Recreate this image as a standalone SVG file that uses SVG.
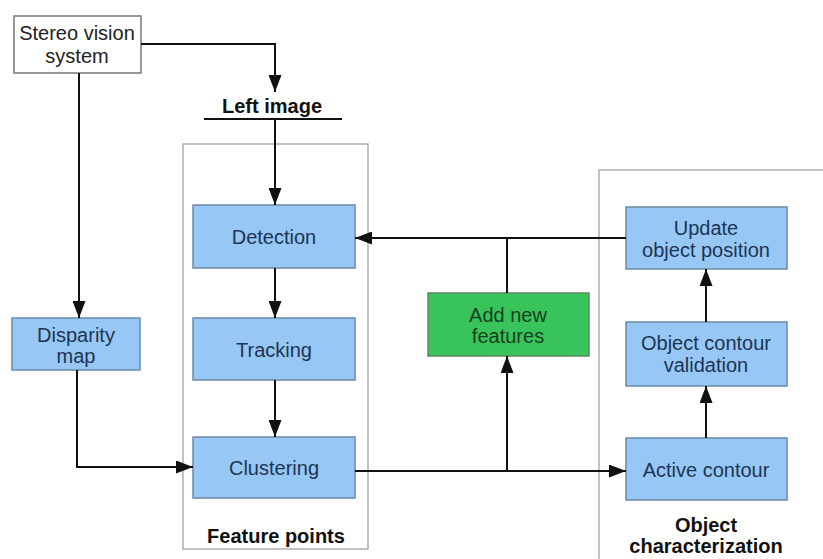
<svg xmlns="http://www.w3.org/2000/svg" width="823" height="559" viewBox="0 0 823 559">
  <defs>
    <marker id="arrow" viewBox="0 0 17 13" refX="17" refY="6.5" markerWidth="17" markerHeight="13" markerUnits="userSpaceOnUse" orient="auto">
      <path d="M0,0 L17,6.5 L0,13 Z" fill="#111"/>
    </marker>
    <style>
      text { font-family: "Liberation Sans", Arial, sans-serif; font-size: 20px; text-anchor: middle; }
      .blue { fill: #97c7f4; stroke: #6a8aa8; stroke-width: 1.5; }
      .green { fill: #38c45a; stroke: #5a8a60; stroke-width: 1.5; }
      .plain { fill: #fff; stroke: #777; stroke-width: 1.5; }
      .frame { fill: none; stroke: #999; stroke-width: 1.2; }
      .bt { fill: #1c3554; }
      .gt { fill: #173f1e; }
      .dark { fill: #222; }
      .bold { font-weight: bold; fill: #111; }
      .wire { fill: none; stroke: #111; stroke-width: 2; }
    </style>
  </defs>
  <rect width="823" height="559" fill="#fff"/>

  <!-- group frames -->
  <g id="feature-points">
    <rect class="frame" x="183" y="144" width="185" height="405"/>
    <text class="bold" x="276" y="543">Feature points</text>
  </g>
  <g id="object-characterization">
    <rect class="frame" x="599" y="170" width="230" height="400"/>
    <text class="bold" x="706" y="532">Object</text>
    <text class="bold" x="706" y="553">characterization</text>
  </g>

  <!-- nodes -->
  <g id="stereo">
    <rect class="plain" x="14" y="16" width="127" height="57"/>
    <text class="dark" x="77" y="40">Stereo vision</text>
    <text class="dark" x="77" y="63">system</text>
  </g>
  <g id="left-image">
    <text class="bold" x="272" y="113">Left image</text>
    <line x1="204" y1="119" x2="342" y2="119" stroke="#111" stroke-width="2"/>
  </g>
  <g id="disparity">
    <rect class="blue" x="12" y="318" width="128" height="52"/>
    <text class="bt" x="76" y="342">Disparity</text>
    <text class="bt" x="76" y="363">map</text>
  </g>
  <g id="detection">
    <rect class="blue" x="193" y="205" width="162" height="63"/>
    <text class="bt" x="274" y="244">Detection</text>
  </g>
  <g id="tracking">
    <rect class="blue" x="193" y="318" width="162" height="62"/>
    <text class="bt" x="274" y="357">Tracking</text>
  </g>
  <g id="clustering">
    <rect class="blue" x="193" y="437" width="162" height="61"/>
    <text class="bt" x="274" y="475">Clustering</text>
  </g>
  <g id="add-features">
    <rect class="green" x="428" y="293" width="161" height="63"/>
    <text class="gt" x="508" y="322">Add new</text>
    <text class="gt" x="508" y="343">features</text>
  </g>
  <g id="update">
    <rect class="blue" x="626" y="207" width="161" height="62"/>
    <text class="bt" x="706" y="235">Update</text>
    <text class="bt" x="706" y="257">object position</text>
  </g>
  <g id="validation">
    <rect class="blue" x="626" y="322" width="161" height="64"/>
    <text class="bt" x="706" y="350">Object contour</text>
    <text class="bt" x="706" y="372">validation</text>
  </g>
  <g id="active-contour">
    <rect class="blue" x="626" y="438" width="161" height="62"/>
    <text class="bt" x="706" y="477">Active contour</text>
  </g>

  <!-- connectors -->
  <g id="connectors">
    <path class="wire" d="M141,44 H275 V92" marker-end="url(#arrow)"/>
    <path class="wire" d="M275,119 V205" marker-end="url(#arrow)"/>
    <path class="wire" d="M79,73 V318" marker-end="url(#arrow)"/>
    <path class="wire" d="M77,370 V467 H193" marker-end="url(#arrow)"/>
    <path class="wire" d="M275,268 V318" marker-end="url(#arrow)"/>
    <path class="wire" d="M275,380 V437" marker-end="url(#arrow)"/>
    <path class="wire" d="M355,471 H626" marker-end="url(#arrow)"/>
    <path class="wire" d="M507,471 V356" marker-end="url(#arrow)"/>
    <path class="wire" d="M626,238 H355" marker-end="url(#arrow)"/>
    <path class="wire" d="M507,238 V293"/>
    <path class="wire" d="M706,438 V386" marker-end="url(#arrow)"/>
    <path class="wire" d="M706,322 V269" marker-end="url(#arrow)"/>
  </g>
</svg>
